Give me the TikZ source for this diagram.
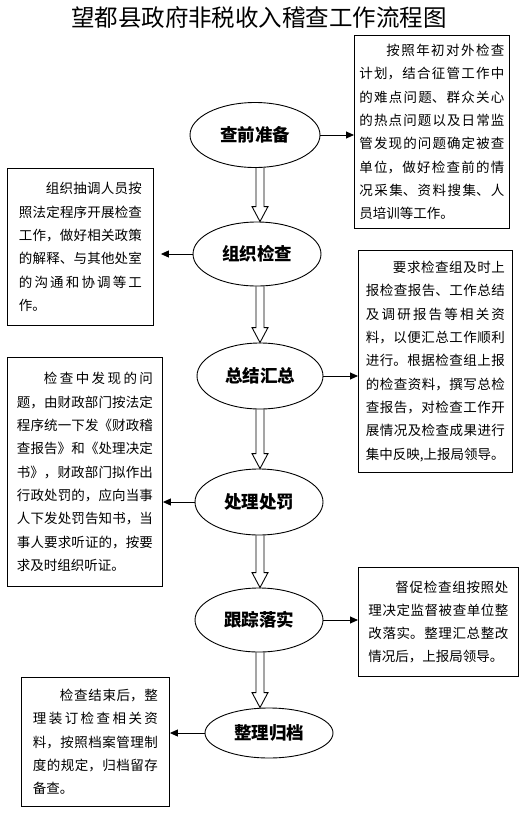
\documentclass[tikz,border=0pt]{standalone}
\usepackage{fontspec}
\usepackage{tikz}
\usetikzlibrary{shapes.geometric,arrows.meta,calc}
\newfontfamily\cjk{Noto Sans CJK SC}
\XeTeXlinebreaklocale "zh"
\XeTeXlinebreakskip=0pt plus 2pt
\hbadness=10000
\tikzset{
  stage/.style={draw,ellipse,line width=0.9pt,inner sep=0pt,
    font=\cjk\bfseries\fontsize{17.5}{20}\selectfont},
  note/.style={draw,line width=0.9pt,anchor=north west,inner ysep=0pt,
    align=justify,font=\cjk\fontsize{13.5}{23.3}\selectfont},
  link/.style={line width=0.9pt,-{Triangle[length=8pt,width=7pt]}}
}
\newcommand\hollowarrow[2]{%
  \draw[line width=0.9pt] let \p1=(col |- #1.south), \p2=(col |- #2.north) in
    (\x1-4pt,\y1) -- (\x1-4pt,\y2+15pt) -- (\x1-8pt,\y2+15pt) -- (\x2,\y2)
    -- (\x1+8pt,\y2+15pt) -- (\x1+4pt,\y2+15pt) -- (\x1+4pt,\y1);}

\begin{document}
\begin{tikzpicture}[x=1pt,y=-1pt]
\path[use as bounding box,fill=white] (0,0) rectangle (521,815);
\coordinate (col) at (260,0);

\node[font=\cjk\fontsize{23.5}{26}\selectfont] (title) at (259,17.5) {望都县政府非税收入稽查工作流程图};

\node[stage,minimum width=130pt,minimum height=65pt] (prep) at (255,135) {查前准备};
\node[stage,minimum width=128pt,minimum height=64pt] (organize) at (257,254) {组织检查};
\node[stage,minimum width=126pt,minimum height=66pt] (summary) at (260,376) {总结汇总};
\node[stage,minimum width=128pt,minimum height=66pt] (punish) at (259,502) {处理处罚};
\node[stage,minimum width=128pt,minimum height=64pt] (follow) at (259,620) {跟踪落实};
\node[stage,minimum width=128pt,minimum height=50pt] (archive) at (269,733) {整理归档};

\node[note,text width=145pt,inner xsep=5pt,minimum height=193pt] (prepnote) at (354,35) {%
\hspace*{2em}按照年初对外检查\linebreak
计划，结合征管工作中\linebreak
的难点问题、群众关心\linebreak
的热点问题以及日常监\linebreak
管发现的问题确定被查\linebreak
单位，做好检查前的情\linebreak
况采集、资料搜集、人\linebreak
员培训等工作。};

\node[note,text width=123pt,inner xsep=11.5pt,minimum height=157pt] (organizenote) at (7,168) {%
\hspace*{2em}组织抽调人员按\linebreak
照法定程序开展检查\linebreak
工作，做好相关政策\linebreak
的解释、与其他处室\linebreak
的沟通和协调等工\linebreak
作。};

\node[note,text width=139pt,inner xsep=7.5pt,minimum height=222pt] (summarynote) at (358,250) {%
\hspace*{2em}要求检查组及时上\linebreak
报检查报告、工作总结\linebreak
及调研报告等相关资\linebreak
料，以便汇总工作顺利\linebreak
进行。根据检查组上报\linebreak
的检查资料，撰写总检\linebreak
查报告，对检查工作开\linebreak
展情况及检查成果进行\linebreak
集中反映,上报局领导。};

\node[note,text width=136pt,inner xsep=9.5pt,minimum height=229pt] (punishnote) at (7,357) {%
\hspace*{2em}检查中发现的问\linebreak
题，由财政部门按法定\linebreak
程序统一下发《财政稽\linebreak
查报告》和《处理决定\linebreak
书》，财政部门拟作出\linebreak
行政处罚的，应向当事\linebreak
人下发处罚告知书，当\linebreak
事人要求听证的，按要\linebreak
求及时组织听证。};

\node[note,text width=140pt,inner xsep=10pt,minimum height=109pt] (follownote) at (358,567) {%
\hspace*{2em}督促检查组按照处\linebreak
理决定监督被查单位整\linebreak
改落实。整理汇总整改\linebreak
情况后，上报局领导。};

\node[note,text width=125pt,inner xsep=11.5pt,minimum height=129pt] (archivenote) at (21,677) {%
\hspace*{2em}检查结束后，整\linebreak
理装订检查相关资\linebreak
料，按照档案管理制\linebreak
度的规定，归档留存\linebreak
备查。};

\hollowarrow{prep}{organize}
\hollowarrow{organize}{summary}
\hollowarrow{summary}{punish}
\hollowarrow{punish}{follow}
\hollowarrow{follow}{archive}

\draw[link] (prep.east) -- (prep.east -| prepnote.west);
\draw[link,shorten >=7pt] (organize.west) -- (organize.west -| organizenote.east);
\draw[link] (summary.east) -- (summary.east -| summarynote.west);
\draw[link] (punish.west) -- (punish.west -| punishnote.east);
\draw[link] (follow.east) -- (follow.east -| follownote.west);
\draw[link] (archive.west) -- (archive.west -| archivenote.east);
\end{tikzpicture}
\end{document}
